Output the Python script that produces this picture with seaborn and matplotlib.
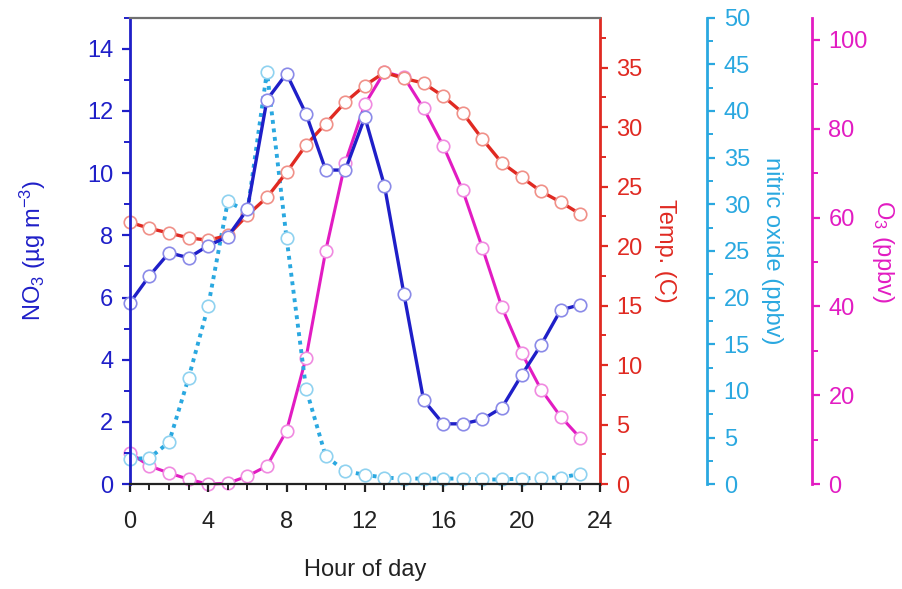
import matplotlib
matplotlib.use("Agg")
import matplotlib.pyplot as plt
import seaborn as sns
import pandas as pd
from matplotlib.ticker import MultipleLocator

sns.set_style("ticks")
plt.rcParams['font.family'] = ['Liberation Sans', 'DejaVu Sans']
plt.rcParams['mathtext.fontset'] = 'custom'
plt.rcParams['mathtext.rm'] = 'Liberation Sans'
plt.rcParams['mathtext.it'] = 'Liberation Sans'

# %% data
hours = list(range(24))
no3 = [5.83, 6.7, 7.44, 7.28, 7.67, 7.96, 8.84, 12.36, 13.2, 11.9, 10.1, 10.1,
       11.8, 9.6, 6.1, 2.7, 1.94, 1.94, 2.08, 2.46, 3.5, 4.48, 5.6, 5.77]
temp = [22.0, 21.5, 21.1, 20.7, 20.5, 20.9, 22.6, 24.1, 26.2, 28.5, 30.3, 32.1,
        33.5, 34.6, 34.1, 33.7, 32.6, 31.2, 29.0, 27.0, 25.8, 24.6, 23.7, 22.7]
no = [2.7, 2.8, 4.5, 11.4, 19.1, 30.3, 29.2, 44.2, 26.4, 10.2, 3.0, 1.4,
      1.0, 0.7, 0.6, 0.6, 0.6, 0.6, 0.5, 0.5, 0.6, 0.7, 0.7, 1.1]
o3 = [7.0, 4.1, 2.5, 1.1, 0.0, 0.2, 1.8, 4.1, 12.0, 28.5, 52.5, 72.4,
      85.5, 92.8, 91.6, 84.6, 76.2, 66.1, 53.2, 39.8, 29.6, 21.3, 15.2, 10.4]

df = pd.DataFrame({"hour": hours, "no3": no3, "temp": temp, "no": no, "o3": o3})

c_blue = "#1f1fc8"
c_red = "#e02a22"
c_cyan = "#2aa8e0"
c_mag = "#e21cc2"

fig = plt.figure(figsize=(9.02, 5.89), dpi=100)
ax = fig.add_axes([0.144, 0.178, 0.521, 0.792])
ax_t = ax.twinx()
ax_n = ax.twinx()
ax_o = ax.twinx()

ax_n.spines["right"].set_position(("axes", 1.228))
ax_o.spines["right"].set_position(("axes", 1.451))

# draw order: blue on top
ax.set_zorder(4)
ax_t.set_zorder(3)
ax_n.set_zorder(2)
ax_o.set_zorder(1)
for a in (ax, ax_t, ax_n):
    a.patch.set_visible(False)

mk = dict(marker="o", markersize=9, markerfacecolor="white", markeredgewidth=1.2, clip_on=False)

sns.lineplot(data=df, x="hour", y="o3", ax=ax_o, color=c_mag, lw=2.2,
             markeredgecolor="#f08ae0", **mk)
sns.lineplot(data=df, x="hour", y="no", ax=ax_n, color=c_cyan, lw=2.8, linestyle=(0, (1, 1.2)),
             markeredgecolor="#8fd2f0", **mk)
sns.lineplot(data=df, x="hour", y="temp", ax=ax_t, color=c_red, lw=2.4,
             markeredgecolor="#f09088", **mk)
sns.lineplot(data=df, x="hour", y="no3", ax=ax, color=c_blue, lw=2.4,
             markeredgecolor="#8a8ae8", **mk)

ax.set_xlim(0, 24)
ax.set_ylim(0, 15)
ax_t.set_ylim(0, 39.2)
ax_n.set_ylim(0, 50)
ax_o.set_ylim(0, 105)

ax.xaxis.set_major_locator(MultipleLocator(4))
ax.xaxis.set_minor_locator(MultipleLocator(1))
ax.yaxis.set_major_locator(MultipleLocator(2))
ax.yaxis.set_minor_locator(MultipleLocator(1))
ax_t.yaxis.set_major_locator(MultipleLocator(5))
ax_t.yaxis.set_minor_locator(MultipleLocator(2.5))
ax_n.yaxis.set_major_locator(MultipleLocator(5))
ax_n.yaxis.set_minor_locator(MultipleLocator(2.5))
ax_o.yaxis.set_major_locator(MultipleLocator(20))
ax_o.yaxis.set_minor_locator(MultipleLocator(10))

fs = 17
ax.set_xlabel("Hour of day", fontsize=fs, labelpad=19, color="#222222")
ax.set_ylabel("NO$_3$ (µg m$^{-3}$)", fontsize=fs, color=c_blue, labelpad=28)
ax_t.set_ylabel("Temp. (C)", fontsize=fs, color=c_red, rotation=270, labelpad=24)
ax_n.set_ylabel("nitric oxide (ppbv)", fontsize=fs, color=c_cyan, rotation=270, labelpad=24)
ax_o.set_ylabel("O$_3$ (ppbv)", fontsize=fs, color=c_mag, rotation=270, labelpad=20)

for a in (ax, ax_t, ax_n, ax_o):
    for side in ("top", "left", "right", "bottom"):
        a.spines[side].set_visible(False)

ax.spines["left"].set_visible(True)
ax.spines["left"].set_color(c_blue)
ax.spines["left"].set_linewidth(2)
ax.spines["bottom"].set_visible(True)
ax.spines["bottom"].set_color("#222222")
ax.spines["bottom"].set_linewidth(1.6)
ax.spines["top"].set_visible(True)
ax.spines["top"].set_color("#707070")
ax.spines["top"].set_linewidth(1.6)

for a, c in ((ax_t, c_red), (ax_n, c_cyan), (ax_o, c_mag)):
    a.spines["right"].set_visible(True)
    a.spines["right"].set_color(c)
    a.spines["right"].set_linewidth(2)
    a.tick_params(axis="y", which="major", direction="out", length=6, width=1.6,
                  colors=c, labelsize=fs, pad=6)
    a.tick_params(axis="y", which="minor", direction="out", length=4, width=1.4, colors=c)

ax.tick_params(axis="y", which="major", direction="out", length=6, width=1.6,
               colors=c_blue, labelsize=fs, pad=6)
ax.tick_params(axis="y", which="minor", direction="out", length=4, width=1.4, colors=c_blue)
ax.tick_params(axis="x", which="major", direction="out", length=6, width=1.6,
               colors="#222222", labelsize=fs, pad=13)
ax.tick_params(axis="x", which="minor", direction="out", length=4, width=1.4, colors="#222222")

fig.savefig("out.png", dpi=100)
